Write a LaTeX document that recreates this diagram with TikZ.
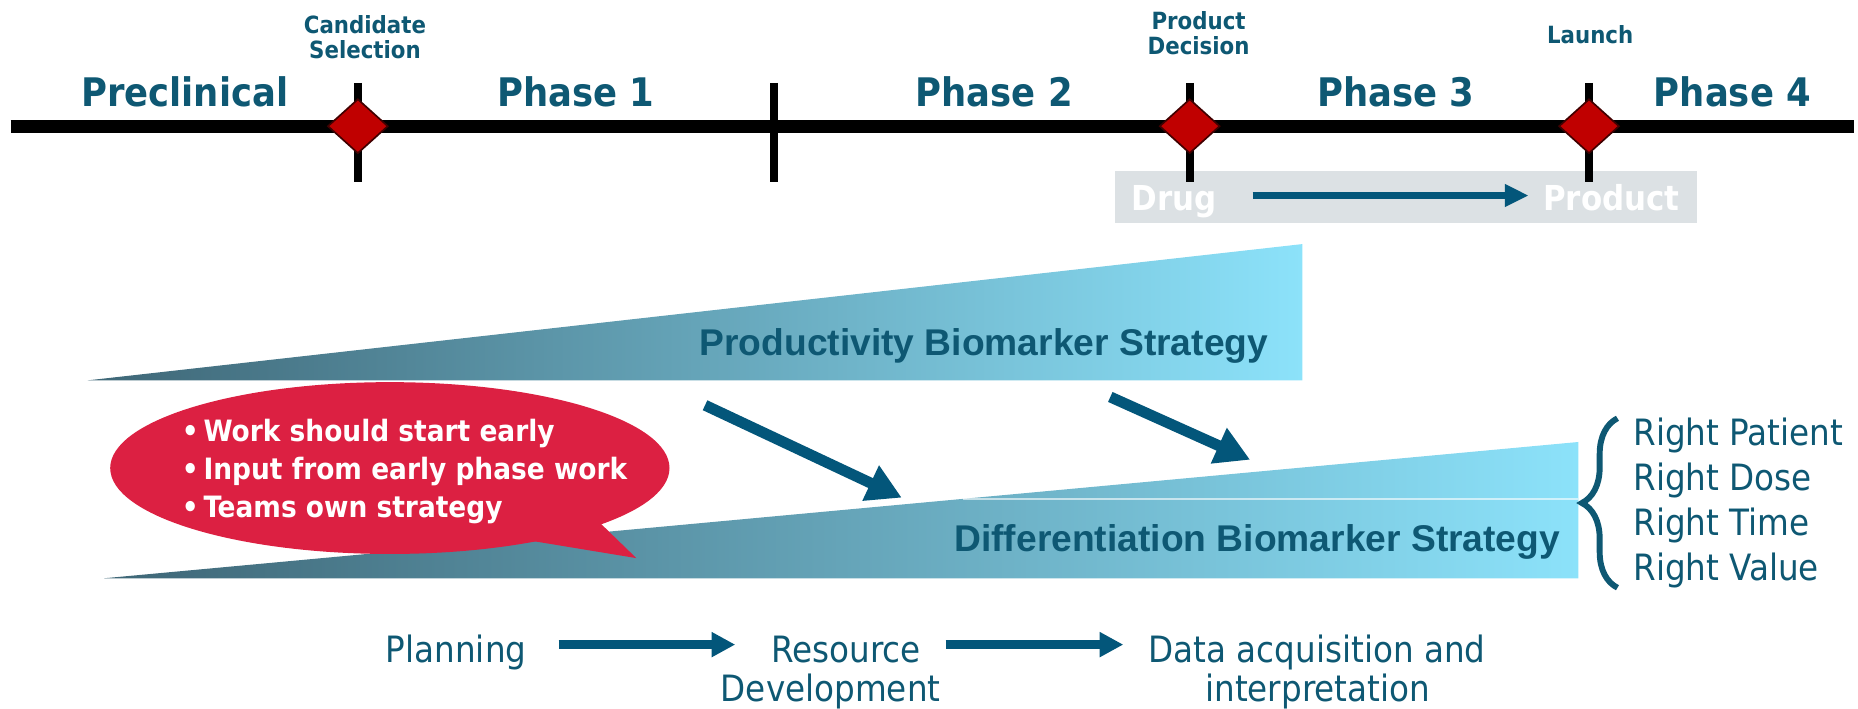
\documentclass[tikz,border=0pt]{standalone}
\usepackage{fontspec}
\setmainfont{DejaVu Sans Condensed}
\newfontfamily\arialfont{Liberation Sans}
\usetikzlibrary{arrows.meta,decorations.pathreplacing,shapes.geometric}
\definecolor{tealtxt}{HTML}{0E5873}
\definecolor{arrowc}{HTML}{03567A}
\definecolor{redd}{HTML}{C00000}
\definecolor{bubblec}{HTML}{DC2042}
\definecolor{greyc}{HTML}{DCE1E4}
\definecolor{wedgeL}{HTML}{3E6676}
\definecolor{wedgeM}{HTML}{6AAAC2}
\definecolor{wedgeR}{HTML}{8CE2FA}
\tikzset{
  phase/.style={anchor=base,inner sep=0,text=tealtxt,font=\fontsize{16.6}{20}\selectfont\bfseries},
  mile/.style={anchor=base,inner sep=0,text=tealtxt,font=\fontsize{10}{12}\selectfont\bfseries},
  whitebold/.style={anchor=base,inner sep=0,text=white,font=\fontsize{14.5}{17}\selectfont\bfseries},
  bullet/.style={anchor=base west,inner sep=0,text=white,font=\fontsize{12.4}{15}\selectfont\bfseries},
  wedgetxt/.style={anchor=base west,inner sep=0,text=tealtxt,font=\arialfont\fontsize{15.7}{18}\selectfont\bfseries},
  righttxt/.style={anchor=base west,inner sep=0,text=tealtxt,font=\fontsize{15.3}{18}\selectfont},
  flowtxt/.style={anchor=base,inner sep=0,text=tealtxt,font=\fontsize{15.3}{18}\selectfont},
  tickline/.style={line width=3.5pt,black},
  mdiamond/.style={diamond,draw=black!75!red,line width=0.7pt,fill=redd,inner sep=0,minimum width=25.5pt,minimum height=23pt},
  bigarrow/.style={line width=4.6pt,arrowc,-{Triangle[length=14.5pt,width=15.5pt]}},
  flowarrow/.style={line width=3.8pt,arrowc,-{Triangle[length=10pt,width=10pt]}},
  smallarrow/.style={line width=2.8pt,arrowc,-{Triangle[length=10pt,width=9pt]}},
}
\begin{document}
\begin{tikzpicture}[x=0.5pt,y=-0.5pt]
\useasboundingbox (0,0) rectangle (1568,598);
% grey box
\node[fill=greyc,inner sep=0,minimum width=245.5pt,minimum height=22pt] (gb) at (1186.5,166) {};
% timeline
\coordinate (tl) at (9,107);
\coordinate (tr) at (1565,107);
\draw[line width=5.5pt] (tl) -- (tr);
\foreach \x/\n in {302/a,653/b,1004/c,1341/d}{
  \coordinate (t\n1) at (\x,70);
  \coordinate (t\n2) at (\x,154);
  \draw[tickline] (t\n1) -- (t\n2);
}
\node[mdiamond] (d1) at (302,106.5) {};
\node[mdiamond] (d2) at (1004,106.5) {};
\node[mdiamond] (d3) at (1341,106.5) {};
% phase labels
\node[phase] (p0) at (156,90) {Preclinical};
\node[phase] (p1) at (486,90) {Phase 1};
\node[phase] (p2) at (839,90) {Phase 2};
\node[phase] (p3) at (1178,90) {Phase 3};
\node[phase] (p4) at (1462,90) {Phase 4};
% milestones
\node[mile] (cs1) at (308,28) {Candidate};
\node[mile] (cs2) at (308,49) {Selection};
\node[mile] (pd1) at (1011.5,25) {Product};
\node[mile] (pd2) at (1011.5,46) {Decision};
\node[mile] (la) at (1342,36.5) {Launch};
% drug -> product
\node[whitebold] (drug) at (991,178) {Drug};
\node[whitebold] (prod) at (1360,178) {Product};
\coordinate (ds) at (1057,165);
\coordinate (de) at (1290,165);
\draw[smallarrow] (ds) -- (de);
% wedges
\shade[left color=wedgeL,middle color=wedgeM,right color=wedgeR] (74,321) -- (1099,206) -- (1099,321) -- cycle;
\shade[left color=wedgeL,middle color=wedgeM,right color=wedgeR] (88,488) -- (1332,373) -- (1332,488) -- cycle;
\draw[white,line width=0.6pt,opacity=0.6] (813,421) -- (1332,421);
\node[wedgetxt] (pbs) at (590,299.6) {Productivity Biomarker Strategy};
\node[wedgetxt] (dbs) at (805,465.5) {Differentiation Biomarker Strategy};
% bubble
\fill[bubblec] (329,395) ellipse [x radius=236,y radius=72.5];
\fill[bubblec] (505,440) -- (537,471) -- (440,455) -- cycle;
\node[bullet] (b1) at (153,373) {•\,Work should start early};
\node[bullet] (b2) at (153,405) {•\,Input from early phase work};
\node[bullet] (b3) at (153,437) {•\,Teams own strategy};
% diagonal arrows
\coordinate (a1s) at (595,342);
\coordinate (a1e) at (761,420);
\coordinate (a2s) at (937,335);
\coordinate (a2e) at (1055,388);
\draw[bigarrow] (a1s) -- (a1e);
\draw[bigarrow] (a2s) -- (a2e);
% brace
\coordinate (bb) at (1365,496);
\coordinate (bt) at (1365,353);
\draw[tealtxt,line width=2.5pt,decorate,decoration={brace,amplitude=15pt}] (bb) -- (bt);
\node[righttxt] (r1) at (1378,376) {Right Patient};
\node[righttxt] (r2) at (1378,414) {Right Dose};
\node[righttxt] (r3) at (1378,452) {Right Time};
\node[righttxt] (r4) at (1378,489.5) {Right Value};
% flow
\node[flowtxt] (pl) at (385,559.5) {Planning};
\node[flowtxt] (rd1) at (714,559.5) {Resource};
\node[flowtxt] (rd2) at (701,592) {Development};
\node[flowtxt] (da1) at (1111.5,559.5) {Data acquisition and};
\node[flowtxt] (da2) at (1112,592) {interpretation};
\coordinate (f1s) at (471.5,544);
\coordinate (f1e) at (620.5,544);
\coordinate (f2s) at (798,544);
\coordinate (f2e) at (948,544);
\draw[flowarrow] (f1s) -- (f1e);
\draw[flowarrow] (f2s) -- (f2e);
\end{tikzpicture}
\end{document}
